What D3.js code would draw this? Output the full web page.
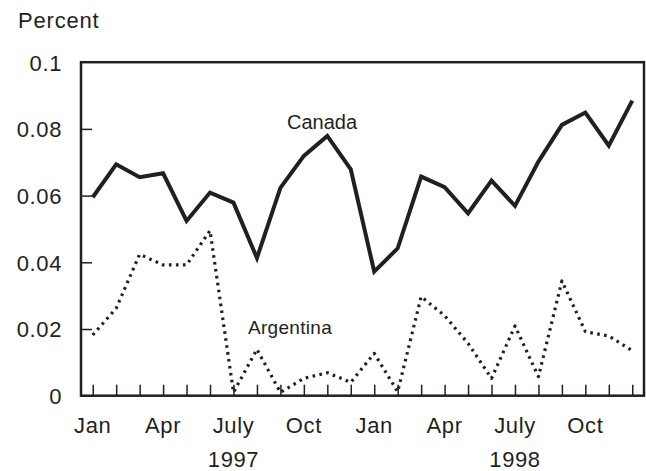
<!DOCTYPE html>
<html>
<head>
<meta charset="utf-8">
<script src="https://cdn.jsdelivr.net/npm/d3@7/dist/d3.min.js"></script>
<style>
  html, body { margin: 0; padding: 0; background: #fff; }
  svg { display: block; }
  text { font-family: "Liberation Sans", Arial, Helvetica, sans-serif; fill: #231f20; }
</style>
</head>
<body>
<svg id="chart" width="646" height="471"></svg>
<script>
// Monthly values, January 1997 through December 1998
const months = ["Jan","Feb","Mar","Apr","May","Jun","Jul","Aug","Sep","Oct","Nov","Dec",
                "Jan","Feb","Mar","Apr","May","Jun","Jul","Aug","Sep","Oct","Nov","Dec"];
const canada = [0.0595, 0.0694, 0.0655, 0.0667, 0.0524, 0.0609, 0.0579, 0.0413,
                0.0623, 0.0719, 0.0779, 0.0679, 0.0372, 0.0442, 0.0657, 0.0625,
                0.0547, 0.0645, 0.0569, 0.0702, 0.0812, 0.0849, 0.0750, 0.0885];
const argentina = [0.0182, 0.0262, 0.0424, 0.0392, 0.0392, 0.0495, 0.0010, 0.0139,
                   0.0010, 0.0052, 0.0069, 0.0040, 0.0127, 0.0012, 0.0297, 0.0240,
                   0.0157, 0.0052, 0.0209, 0.0057, 0.0344, 0.0192, 0.0179, 0.0135];
const yTicks = [0, 0.02, 0.04, 0.06, 0.08, 0.1];
const yTickLabels = ["0", "0.02", "0.04", "0.06", "0.08", "0.1"];
const monthLabels = [[0, "Jan"], [3, "Apr"], [6, "July"], [9, "Oct"],
                     [12, "Jan"], [15, "Apr"], [18, "July"], [21, "Oct"]];
const yearLabels = [[6, "1997"], [18, "1998"]];

const svg = d3.select("#chart");
const plotLeft = 81, plotRight = 644, plotTop = 62.2, plotBottom = 395.7;

const x = d3.scaleLinear().domain([-0.5, 23.5]).range([plotLeft, plotRight]);
const y = d3.scaleLinear().domain([0, 0.1]).range([plotBottom, plotTop]);

const ink = "#231f20";
const labelFont = "'Liberation Sans', Arial, sans-serif";

// y axis: ticks point inward, labels to the left
const yAxis = d3.axisLeft(y).tickValues(yTicks).tickSize(-11)
  .tickFormat((d, i) => yTickLabels[i]);
const gy = svg.append("g").attr("transform", `translate(${plotLeft},0)`).call(yAxis);
gy.select(".domain").remove();
gy.selectAll(".tick line").attr("stroke", ink).attr("stroke-width", 1.5);
gy.selectAll(".tick text").attr("font-size", 22).attr("x", -19).attr("dy", "0.36em")
  .attr("letter-spacing", 0.6)
  .style("font-family", labelFont).attr("fill", ink);
gy.selectAll(".tick").filter(d => d === 0.1).select("line").remove();

// x axis: one inward tick per month
const xAxis = d3.axisBottom(x).tickValues(d3.range(24)).tickSize(-11).tickFormat("");
const gx = svg.append("g").attr("transform", `translate(0,${plotBottom})`).call(xAxis);
gx.select(".domain").remove();
gx.selectAll(".tick line").attr("stroke", ink).attr("stroke-width", 1.5);

svg.append("g").selectAll("text").data(monthLabels).join("text")
  .attr("x", d => x(d[0])).attr("y", 433)
  .attr("text-anchor", "middle").attr("font-size", 22).attr("letter-spacing", 0.6)
  .text(d => d[1]);
svg.append("g").selectAll("text").data(yearLabels).join("text")
  .attr("x", d => x(d[0])).attr("y", 467)
  .attr("text-anchor", "middle").attr("font-size", 22).attr("letter-spacing", 0.6)
  .text(d => d[1]);

// frame
svg.append("rect").attr("x", plotLeft).attr("y", plotTop)
  .attr("width", plotRight - plotLeft).attr("height", plotBottom - plotTop)
  .attr("fill", "none").attr("stroke", ink).attr("stroke-width", 2.5);

svg.append("text").attr("x", 18).attr("y", 28).attr("font-size", 22)
  .attr("letter-spacing", 0.8).text("Percent");

const line = d3.line().x((d, i) => x(i)).y(d => y(d));

svg.append("path").datum(argentina).attr("d", line)
  .attr("fill", "none").attr("stroke", ink).attr("stroke-width", 3.2)
  .attr("stroke-dasharray", "2.6,4.4").attr("stroke-linejoin", "round");

svg.append("path").datum(canada).attr("d", line)
  .attr("fill", "none").attr("stroke", ink).attr("stroke-width", 4)
  .attr("stroke-linejoin", "miter");

svg.append("text").attr("x", 322).attr("y", 129).attr("text-anchor", "middle")
  .attr("font-size", 20).text("Canada");
svg.append("text").attr("x", 290).attr("y", 334).attr("text-anchor", "middle")
  .attr("font-size", 19).attr("letter-spacing", 0.3).text("Argentina");
</script>
</body>
</html>
